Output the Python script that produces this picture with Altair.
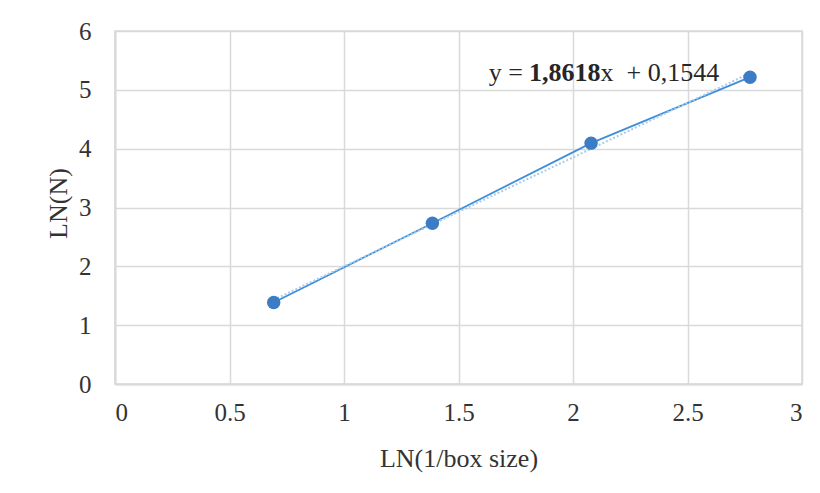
import altair as alt
import pandas as pd

# data
ln_inv_box = [0.693, 1.386, 2.079, 2.773]
ln_n = [1.386, 2.733, 4.094, 5.215]
x_ticks = [0, 0.5, 1, 1.5, 2, 2.5, 3]
y_ticks = [0, 1, 2, 3, 4, 5, 6]
eq_parts = ["y =", "1,8618", "x\u00a0\u00a0+ 0,1544"]
eq_x = [1.808, 1.808, 2.120]
eq_y = [5.286, 5.286, 5.286]
eq_weight = ["normal", "bold", "normal"]
eq_align = ["right", "left", "left"]

df = pd.DataFrame({"x": ln_inv_box, "y": ln_n})
eq = pd.DataFrame({"t": eq_parts, "x": eq_x, "y": eq_y, "w": eq_weight, "a": eq_align})

FONT = "Liberation Serif"
TXT = "#333333"

xs = alt.Scale(domain=[0, 3], nice=False, zero=False)
ys = alt.Scale(domain=[0, 6], nice=False, zero=False)

xenc = alt.X("x:Q", scale=xs, axis=alt.Axis(
    values=x_ticks, labelExpr="'' + datum.value", title="LN(1/box size)",
    grid=True, gridColor="#d9d9d9", gridWidth=1.5,
    domainColor="#d9d9d9", domainWidth=2, ticks=False,
    labelFont=FONT, labelFontSize=25, labelColor=TXT, labelPadding=16,
    titleFont=FONT, titleFontSize=26, titleFontWeight="normal", titleColor=TXT,
    titleY=74, titleBaseline="middle"))
yenc = alt.Y("y:Q", scale=ys, axis=alt.Axis(
    values=y_ticks, labelExpr="'' + datum.value", title="LN(N)",
    grid=True, gridColor="#d9d9d9", gridWidth=1.5,
    domainColor="#d9d9d9", domainWidth=2, ticks=False,
    labelFont=FONT, labelFontSize=25, labelColor=TXT, labelPadding=24,
    titleFont=FONT, titleFontSize=26, titleFontWeight="normal", titleColor=TXT,
    titleX=-57, titleY=172, titleBaseline="middle", titleAlign="center", titleAngle=-90))

base = alt.Chart(df)

trend = base.transform_regression("x", "y").mark_line(
    color="#a9cbea", strokeWidth=2, strokeDash=[2, 2]
).encode(x=alt.X("x:Q", scale=xs), y=alt.Y("y:Q", scale=ys))

line = base.mark_line(color="#3f8fd8", strokeWidth=1.8).encode(x=xenc, y=yenc)

pts = base.mark_circle(color="#3b7cc4", opacity=1, size=180).encode(
    x=alt.X("x:Q", scale=xs), y=alt.Y("y:Q", scale=ys))

def eq_layer(weight, align, dx):
    return alt.Chart(eq).transform_filter(
        (alt.datum.w == weight) & (alt.datum.a == align)
    ).mark_text(
        align=align, baseline="middle", font=FONT, fontSize=26,
        color="#262626", fontWeight=weight, dx=dx
    ).encode(
        x=alt.X("x:Q", scale=xs), y=alt.Y("y:Q", scale=ys), text="t:N"
    )

chart = alt.layer(
    line, trend, pts,
    eq_layer("normal", "right", -6),
    eq_layer("bold", "left", 0),
    eq_layer("normal", "left", 0),
).properties(
    width=687, height=353,
    autosize=alt.AutoSizeParams(type="none"),
    padding={"left": 107, "top": 23, "right": 10, "bottom": 101},
    background="white",
).configure_view(stroke="#d9d9d9", strokeWidth=1.5)

chart.save("out.html", embed_options={"renderer": "svg", "actions": False})
